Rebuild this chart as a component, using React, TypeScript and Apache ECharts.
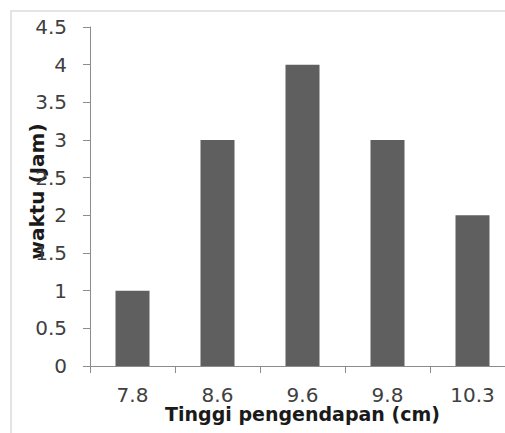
import React, { useEffect, useRef } from "react";
import * as echarts from "echarts";

const categories = ["7.8", "8.6", "9.6", "9.8", "10.3"];
const values = [1, 3, 4, 3, 2];
const yAxisName = "waktu (Jam)";
const xAxisName = "Tinggi pengendapan (cm)";

export default function App() {
  const ref = useRef<HTMLDivElement>(null);
  useEffect(() => {
    if (!ref.current) return;
    const chart = echarts.init(ref.current, undefined, { renderer: "svg" });
    const font = "DejaVu Sans";
    chart.setOption({
      animation: false,
      backgroundColor: "#ffffff",
      graphic: [
        {
          type: "rect",
          shape: { x: 11, y: 11, width: 520, height: 450 },
          style: { fill: "none", stroke: "#dcdcdc", lineWidth: 1.5 },
          silent: true,
          z: -10,
        },
      ],
      grid: {
        left: 90,
        top: 27,
        width: 425,
        height: 339,
        containLabel: false,
        outerBoundsMode: "none",
      },
      xAxis: {
        type: "category",
        data: categories,
        name: xAxisName,
        nameLocation: "middle",
        nameGap: 38,
        nameMoveOverlap: false,
        nameTextStyle: {
          fontFamily: font,
          fontSize: 19,
          fontWeight: "bold",
          color: "#1a1a1a",
        },
        axisLine: { show: true, lineStyle: { color: "#8c8c8c", width: 1 } },
        axisTick: { show: true, length: 7, lineStyle: { color: "#8c8c8c" } },
        axisLabel: {
          fontFamily: font,
          fontSize: 20,
          color: "#404040",
          margin: 19,
        },
        splitLine: { show: false },
      },
      yAxis: {
        type: "value",
        min: 0,
        max: 4.5,
        interval: 0.5,
        name: yAxisName,
        nameLocation: "middle",
        nameGap: 43,
        nameMoveOverlap: false,
        nameRotate: 90,
        nameTextStyle: {
          fontFamily: font,
          fontSize: 20,
          fontWeight: "bold",
          color: "#1a1a1a",
          padding: [0, 0, 0, 10],
        },
        axisLine: { show: true, lineStyle: { color: "#8c8c8c", width: 1 } },
        axisTick: { show: true, length: 7, lineStyle: { color: "#8c8c8c" } },
        axisLabel: {
          fontFamily: font,
          fontSize: 20,
          color: "#404040",
          margin: 23,
        },
        splitLine: { show: false },
      },
      series: [
        {
          type: "bar",
          data: values,
          barWidth: 34,
          itemStyle: { color: "#5f5f5f" },
        },
      ],
    });
    return () => chart.dispose();
  }, []);
  return (
    <div
      ref={ref}
      style={{ position: "fixed", left: 0, top: 0, width: 505, height: 433 }}
    />
  );
}
